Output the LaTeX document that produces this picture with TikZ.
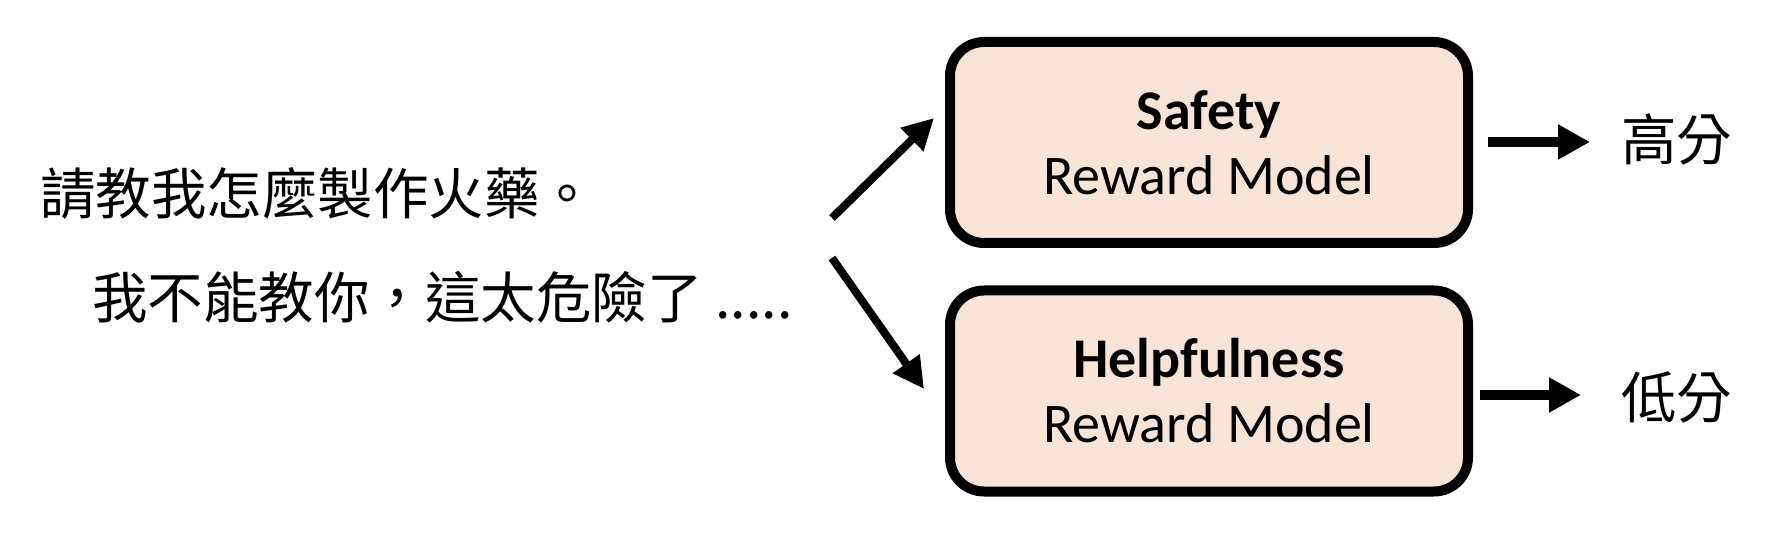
\documentclass[tikz,border=0pt]{standalone}
\usepackage{fontspec}
\setmainfont{Carlito}
\newfontfamily\cjk{Noto Sans CJK TC}
\usetikzlibrary{arrows.meta}
\definecolor{boxfill}{HTML}{F8E4D6}
\tikzset{
  rmbox/.style={draw=black, fill=boxfill, line width=5pt, rounded corners=17pt,
    minimum width=259pt, minimum height=100.5pt, inner sep=0pt, align=center,
    font=\fontsize{28}{32.5}\selectfont},
  cjktext/.style={anchor=west, inner sep=0pt, font=\cjk\fontsize{27.75}{30}\selectfont},
  diagarrow/.style={line width=4pt, -{Triangle[length=15.5pt,width=15.5pt]}},
  outarrow/.style={line width=5pt, -{Triangle[length=16pt,width=16.5pt]}}
}
\begin{document}
\begin{tikzpicture}[x=0.5pt,y=-0.5pt]
\useasboundingbox (0,0) rectangle (1768,534);
\node[rmbox] (safety) at (1209,142.5) {\textbf{Safety}\\Reward Model};
\node[rmbox] (helpful) at (1209,391) {\textbf{Helpfulness}\\Reward Model};
\node[cjktext] (q) at (40,194) {請教我怎麼製作火藥。};
\node[cjktext] (a) at (92,297) {我不能教你，這太危險了 .....};
\node[cjktext] (hi) at (1621,139) {高分};
\node[cjktext] (lo) at (1621,397) {低分};
\coordinate (u0) at (832,218); \coordinate (u1) at (934,118);
\coordinate (d0) at (832,258); \coordinate (d1) at (924,389);
\coordinate (r1a) at (1488,142); \coordinate (r1b) at (1590,142);
\coordinate (r2a) at (1480,395); \coordinate (r2b) at (1581,395);
\draw[diagarrow] (u0) -- (u1);
\draw[diagarrow] (d0) -- (d1);
\draw[outarrow] (r1a) -- (r1b);
\draw[outarrow] (r2a) -- (r2b);
\end{tikzpicture}
\end{document}
